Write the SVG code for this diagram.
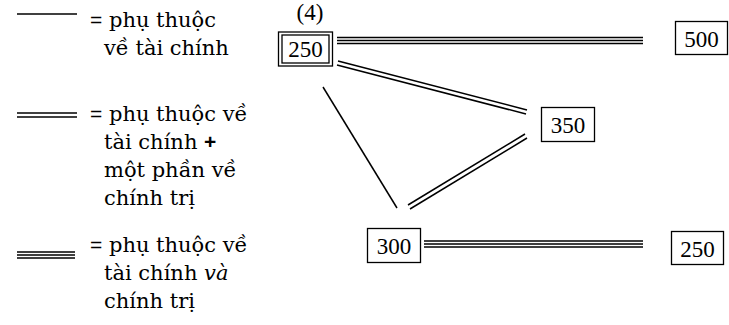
<svg xmlns="http://www.w3.org/2000/svg" width="729" height="325" viewBox="0 0 729 325">
  <style>
    .bg { fill: #ffffff; }
    .ln { stroke: #000000; stroke-width: 1.5; fill: none; }
    .box { fill: #ffffff; stroke: #000000; stroke-width: 1.3; }
    .num { font-family: "Liberation Serif", "Times New Roman", serif; font-size: 23px; fill: #000000; }
    .leg { font-family: "DejaVu Serif", "Liberation Serif", serif; font-size: 21px; fill: #000000; }
    .sym { font-family: "Liberation Sans", Arial, sans-serif; }
    .plus { font-family: "Liberation Sans", Arial, sans-serif; font-weight: bold; }
  </style>
  <rect class="bg" x="0" y="0" width="729" height="325"/>

  <!-- legend -->
  <g id="legend">
    <line class="ln" x1="17" y1="14" x2="77" y2="14"/>
    <text class="leg" x="90" y="27"><tspan class="sym">=</tspan> phụ thuộc</text>
    <text class="leg" x="104" y="55">về tài chính</text>

    <line class="ln" x1="17" y1="113" x2="77" y2="113"/>
    <line class="ln" x1="17" y1="117" x2="77" y2="117"/>
    <text class="leg" x="90" y="121"><tspan class="sym">=</tspan> phụ thuộc về</text>
    <text class="leg" x="104" y="149">tài chính <tspan class="plus">+</tspan></text>
    <text class="leg" x="104" y="177">một phần về</text>
    <text class="leg" x="104" y="205">chính trị</text>

    <line class="ln" x1="17" y1="252" x2="75" y2="252"/>
    <line class="ln" x1="17" y1="255" x2="75" y2="255"/>
    <line class="ln" x1="17" y1="258" x2="75" y2="258"/>
    <text class="leg" x="90" y="252"><tspan class="sym">=</tspan> phụ thuộc về</text>
    <text class="leg" x="104" y="280">tài chính <tspan font-style="italic">và</tspan></text>
    <text class="leg" x="104" y="308">chính trị</text>
  </g>

  <!-- connectors -->
  <g id="connectors">
    <!-- 250 to 500: triple -->
    <line class="ln" x1="337" y1="37.5" x2="643" y2="37.5"/>
    <line class="ln" x1="337" y1="40.5" x2="643" y2="40.5"/>
    <line class="ln" x1="337" y1="43.5" x2="643" y2="43.5"/>
    <!-- 250 to 350: double -->
    <line class="ln" x1="338" y1="61" x2="527" y2="110"/>
    <line class="ln" x1="337" y1="65" x2="526" y2="114"/>
    <!-- 350 to 300: double -->
    <line class="ln" x1="525" y1="134" x2="408" y2="205"/>
    <line class="ln" x1="527" y1="138" x2="410" y2="209"/>
    <!-- 250 to 300: single -->
    <line class="ln" x1="323" y1="87" x2="397" y2="208"/>
    <!-- 300 to 250: triple -->
    <line class="ln" x1="424" y1="241" x2="643" y2="241"/>
    <line class="ln" x1="424" y1="244" x2="643" y2="244"/>
    <line class="ln" x1="424" y1="247" x2="643" y2="247"/>
  </g>

  <!-- nodes -->
  <g id="node-250-top">
    <text class="num" x="310" y="20" text-anchor="middle">(4)</text>
    <rect class="box" x="278.5" y="32" width="54" height="34"/>
    <rect class="box" x="282" y="35" width="47" height="28"/>
    <text class="num" x="305.5" y="57" text-anchor="middle">250</text>
  </g>
  <g id="node-500">
    <rect class="box" x="675.5" y="21.5" width="52" height="33"/>
    <text class="num" x="701.5" y="46.5" text-anchor="middle">500</text>
  </g>
  <g id="node-350">
    <rect class="box" x="541.5" y="107.5" width="53" height="34"/>
    <text class="num" x="568" y="132.5" text-anchor="middle">350</text>
  </g>
  <g id="node-300">
    <rect class="box" x="367.5" y="228.5" width="53" height="34"/>
    <text class="num" x="394" y="253.5" text-anchor="middle">300</text>
  </g>
  <g id="node-250-bottom">
    <rect class="box" x="671.5" y="231.5" width="52" height="33"/>
    <text class="num" x="697.5" y="256.5" text-anchor="middle">250</text>
  </g>
</svg>
